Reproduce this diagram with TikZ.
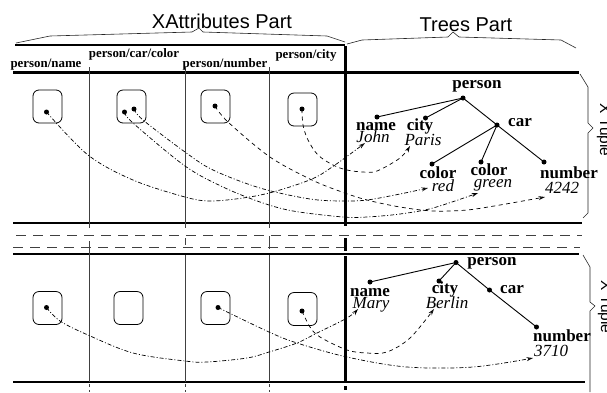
\documentclass[tikz,border=0pt]{standalone}
\usepackage{fontspec}
\setmainfont{Liberation Serif}
\newfontfamily\hv{Liberation Sans}
\usetikzlibrary{arrows.meta}
\tikzset{
  hdr/.style={font=\fontsize{12.9}{13}\selectfont\bfseries,inner sep=0pt,anchor=base},
  lab/.style={font=\fontsize{17}{17}\selectfont\bfseries,inner sep=0pt,anchor=base},
  val/.style={font=\fontsize{17}{17}\selectfont\itshape,inner sep=0pt,anchor=base},
  part/.style={font=\hv\fontsize{20}{20}\selectfont,inner sep=0pt,anchor=base},
  tup/.style={font=\hv\fontsize{15.5}{16}\selectfont,inner sep=0pt,anchor=base,rotate=-90},
  boxn/.style={draw,line width=.8pt,rounded corners=6pt,minimum width=29pt,minimum height=33pt,inner sep=0pt},
  dotn/.style={circle,fill=black,inner sep=0pt,minimum size=5pt},
  edge/.style={line width=.9pt},
  rule/.style={line width=1.6pt},
  heavy/.style={line width=2.2pt},
  wall/.style={line width=3pt},
  sep/.style={line width=.8pt,black!75},
  gapl/.style={line width=.8pt,black!75,dash pattern=on 10pt off 7pt},
  brc/.style={line width=.6pt,black!85},
  dd/.style={line width=.7pt,dash pattern=on 4pt off 2pt on 1pt off 2pt,-{Stealth[length=6.5pt,width=4pt,open]}},
  ds/.style={line width=.7pt,dash pattern=on 4pt off 3.5pt,-{Stealth[length=6.5pt,width=4pt,open]}},
}
\begin{document}
\begin{tikzpicture}[x=1pt,y=-1pt]
\useasboundingbox (0,0) rectangle (607,392);
\clip (0,0) rectangle (607,392);
% grid
\draw[heavy] (15,45) -- (345,45);
\draw[wall] (13,72) -- (579,72);
\draw[rule] (13,223) -- (582,223);
\draw[gapl] (16,235) -- (582,235);
\draw[gapl] (13,247) -- (580,247);
\draw[rule] (13,254) -- (579,254);
\draw[rule] (13,382) -- (585,382);
\foreach \x in {89,185,269}{
  \draw[sep] (\x,67) -- (\x,228);
  \draw[sep] (\x,255) -- (\x,382);
  \draw[sep] (\x,384) -- (\x,387);
  \draw[sep] (\x,390) -- (\x,392);
}
\draw[sep] (89,241) -- (89,255);
\draw[sep] (185,238) -- (185,245);
\draw[sep] (269,236) -- (269,249);
\draw[wall] (345,46) -- (345,226);
\draw[wall] (345,238) -- (345,251);
\draw[wall] (345,256) -- (345,382);
\draw[wall] (345,386) -- (345,390);
% braces
\draw[brc] (16,43) -- (50,36) -- (192,32) -- (199,28) -- (203,32) -- (327,36) -- (345,42);
\draw[brc] (347,44) -- (362,40) -- (448,37) -- (453,32) -- (459,37) -- (561,40) -- (576,48);
\draw[brc] (580,74) -- (588,87) -- (588,123) -- (593,128) -- (588,133) -- (588,213) -- (583,218);
\draw[brc] (583,255) -- (590,267) -- (590,302) -- (595,306) -- (590,311) -- (590,392);
% titles
\node[part] (tx) at (222,28) {XAttributes Part};
\node[part] (tt) at (466,31) {Trees Part};
\node[tup] (t1) at (600,130) {X Tuple};
\node[tup] (t2) at (601,307) {X Tuple};
% headers
\node[hdr] (h1) at (46,67) {person/name};
\node[hdr] (h2) at (134,57.5) {person/car/color};
\node[hdr] (h3) at (225,67) {person/number};
\node[hdr] (h4) at (306,58) {person/city};
% boxes
\node[boxn] (b1) at (47.5,106.5) {};
\node[boxn] (b2) at (131.5,106.5) {};
\node[boxn] (b3) at (215.5,106.5) {};
\node[boxn] (b4) at (302.5,109.5) {};
\node[boxn] (c1) at (47.5,308) {};
\node[boxn] (c2) at (128.5,308) {};
\node[boxn] (c3) at (215.5,308) {};
\node[boxn] (c4) at (302.5,309) {};
% dots in boxes
\node[dotn] (d1) at (46.5,112) {};
\node[dotn] (d2) at (124.5,112) {};
\node[dotn] (d2b) at (134,109) {};
\node[dotn] (d3) at (215,106) {};
\node[dotn] (d4) at (302,109) {};
\node[dotn] (e1) at (46.5,307.5) {};
\node[dotn] (e3) at (218,307.5) {};
\node[dotn] (e4) at (302,311) {};
% tree 1
\node[dotn] (p) at (463,98) {};
\node[dotn] (pn) at (377,117) {};
\node[dotn] (pc) at (425.5,118) {};
\node[dotn] (pk) at (497,125) {};
\node[dotn] (k1) at (432,164) {};
\node[dotn] (k2) at (481,162) {};
\node[dotn] (k3) at (544,162) {};
\draw[edge] (p.center) -- (pn.center);
\draw[edge] (p.center) -- (pc.center);
\draw[edge] (p.center) -- (pk.center);
\draw[edge] (pk.center) -- (k1.center);
\draw[edge] (pk.center) -- (k2.center);
\draw[edge] (pk.center) -- (k3.center);
\node[lab] (l1) at (477,88) {person};
\node[lab] (l2) at (376,130) {name};
\node[val] (l3) at (373,142) {John};
\node[lab] (l4) at (420,130) {city};
\node[val] (l5) at (423,145) {Paris};
\node[lab] (l6) at (520,126) {car};
\node[lab] (l7) at (438,178) {color};
\node[val] (l8) at (443,191) {red};
\node[lab] (l9) at (489,175) {color};
\node[val] (l10) at (493,187) {green};
\node[lab] (l11) at (569,178) {number};
\node[val] (l12) at (562,193) {4242};
% tree 2
\node[dotn] (q) at (456,262.5) {};
\node[dotn] (qn) at (370,282) {};
\node[dotn] (qc) at (439,281) {};
\node[dotn] (qk) at (489.5,290) {};
\node[dotn] (qm) at (536.5,327) {};
\draw[edge] (q.center) -- (qn.center);
\draw[edge] (q.center) -- (qc.center);
\draw[edge] (q.center) -- (qk.center) -- (qm.center);
\node[lab] (m1) at (492,265) {person};
\node[lab] (m2) at (370,296) {name};
\node[val] (m3) at (371,308) {Mary};
\node[lab] (m4) at (445,293) {city};
\node[val] (m5) at (447,308) {Berlin};
\node[lab] (m6) at (512,293) {car};
\node[lab] (m7) at (562,341) {number};
\node[val] (m8) at (551,356) {3710};
% arrow ends
\coordinate (aJohn) at (365,143);
\coordinate (aParis) at (410,146);
\coordinate (aRed) at (428,188);
\coordinate (aGreen) at (478,193);
\coordinate (a4242) at (545,197);
\coordinate (aMary) at (358,309);
\coordinate (aBerlin) at (434,309);
\coordinate (a3710) at (533,358);
% connectors
\draw[dd] plot[smooth,tension=.55] coordinates {(d1) (88,155) (133,180) (185,197) (210,201) (243,198) (273,192) (312,179) (335,165) (aJohn)};
\draw[dd] plot[smooth,tension=.55] coordinates {(d2b) (143,120) (185,152) (213,170) (260,188) (310,199) (343,201) (367,200) (400,194) (aRed)};
\draw[dd] plot[smooth,tension=.55] coordinates {(d2) (133,123) (185,166) (223,187) (260,202) (293,211) (343,217) (367,217) (400,214) (433,208) (aGreen)};
\draw[ds] plot[smooth,tension=.55] coordinates {(d3) (228,122) (270,157) (312,180) (342,192) (367,200) (400,207) (433,211) (467,210) (500,205) (a4242)};
\draw[ds] plot[smooth,tension=.55] coordinates {(d4) (303,125) (308,140) (318,155) (333,165) (347,170) (363,172) (377,171) (400,158) (aParis)};
\draw[dd] plot[smooth,tension=.55] coordinates {(e1) (60,321) (88,335) (133,353) (185,361) (207,362) (247,358) (269,352) (297,343) (317,333) (347,318) (aMary)};
\draw[dd] plot[smooth,tension=.55] coordinates {(e3) (269,332) (297,343) (347,357) (407,367) (473,367) (a3710)};
\draw[ds] plot[smooth,tension=.55] coordinates {(e4) (310,327) (320,337) (347,350) (367,353) (387,352) (410,338) (aBerlin)};
\end{tikzpicture}
\end{document}
